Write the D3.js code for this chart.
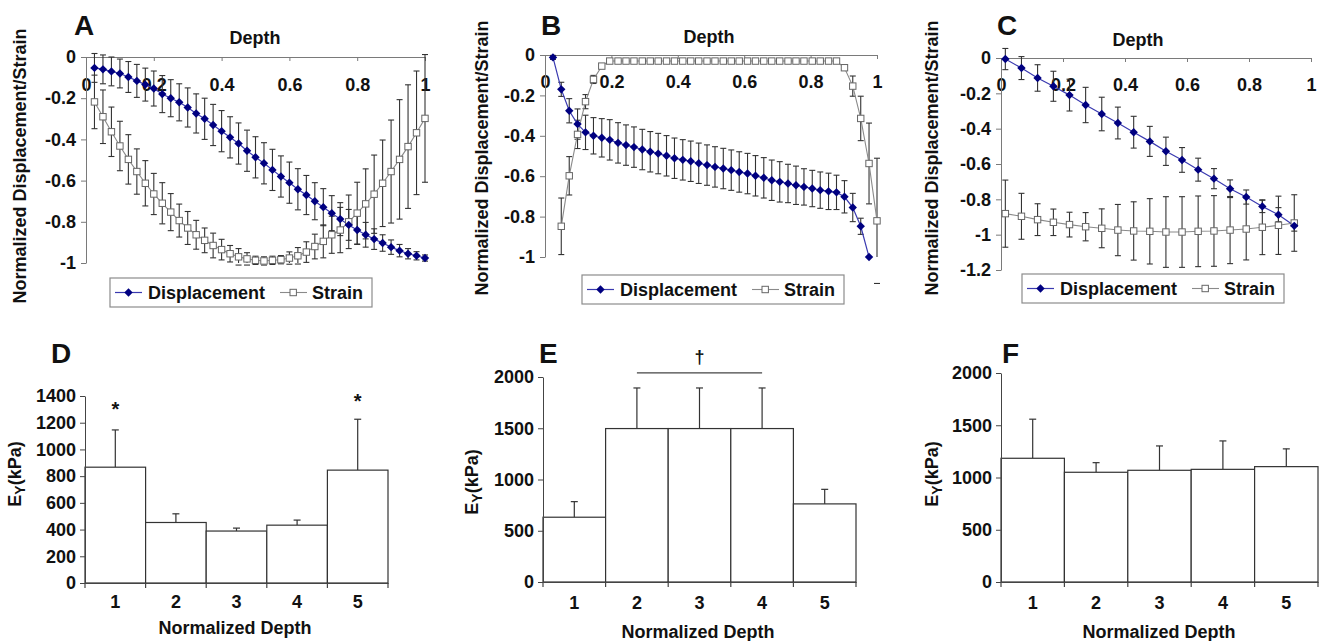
<!DOCTYPE html>
<html>
<head>
<meta charset="utf-8">
<script src="https://cdn.jsdelivr.net/npm/d3@7"></script>
<style>
  body { margin: 0; background: #fff; }
  svg text { font-family: "Liberation Sans", Arial, sans-serif; font-weight: bold; fill: #111; }
  .axis text { font-size: 18px; font-family: "Liberation Sans", Arial, sans-serif; fill: #111; }
  .axis--line path, .axis--line line { stroke: #7a7a7a; }
  .axis--bar path, .axis--bar line { stroke: #444; }
</style>
</head>
<body>
<svg id="fig" width="1328" height="641"></svg>
<script>
// ---- data: top row, normalized displacement / strain vs depth ----
const depthTicks = [0, 0.2, 0.4, 0.6, 0.8, 1]

const depthA = [0.025,0.05,0.075,0.1,0.125,0.15,0.175,0.2,0.225,0.25,0.275,0.3,0.325,0.35,0.375,0.4,0.425,0.45,0.475,0.5,
  0.525,0.55,0.575,0.6,0.625,0.65,0.675,0.7,0.725,0.75,0.775,0.8,0.825,0.85,0.875,0.9,0.925,0.95,0.975,1]
const dispA = [-0.053,-0.06,-0.07,-0.08,-0.097,-0.116,-0.134,-0.153,-0.18,-0.2,-0.22,-0.245,-0.274,-0.3,-0.33,-0.36,-0.39,-0.42,-0.455,-0.487,
  -0.516,-0.548,-0.58,-0.61,-0.642,-0.67,-0.7,-0.729,-0.758,-0.787,-0.815,-0.84,-0.863,-0.884,-0.903,-0.923,-0.94,-0.955,-0.965,-0.976]
const dispErrA = [0.07,0.07,0.07,0.07,0.075,0.08,0.08,0.085,0.09,0.09,0.09,0.095,0.095,0.1,0.1,0.1,0.1,0.1,0.1,0.1,
  0.1,0.1,0.1,0.1,0.1,0.095,0.09,0.09,0.085,0.08,0.075,0.07,0.06,0.05,0.04,0.035,0.03,0.025,0.02,0.015]
const strainA = [-0.218,-0.29,-0.363,-0.432,-0.497,-0.556,-0.613,-0.665,-0.71,-0.753,-0.794,-0.83,-0.863,-0.89,-0.915,-0.935,-0.955,-0.97,-0.98,-0.987,
  -0.99,-0.987,-0.984,-0.976,-0.965,-0.947,-0.92,-0.895,-0.863,-0.84,-0.8,-0.758,-0.713,-0.666,-0.613,-0.556,-0.497,-0.435,-0.368,-0.298]
const strainErrA = [0.13,0.13,0.12,0.12,0.12,0.11,0.11,0.1,0.1,0.09,0.08,0.08,0.07,0.06,0.06,0.05,0.04,0.04,0.03,0.02,
  0.02,0.02,0.02,0.03,0.04,0.05,0.06,0.08,0.09,0.11,0.13,0.15,0.17,0.19,0.21,0.25,0.29,0.3,0.3,0.31]

const depthB = [0.024,0.049,0.073,0.098,0.122,0.146,0.171,0.195,0.22,0.244,0.268,0.293,0.317,0.341,0.366,0.39,0.415,0.439,0.463,0.488,
  0.512,0.537,0.561,0.585,0.61,0.634,0.659,0.683,0.707,0.732,0.756,0.78,0.805,0.829,0.854,0.878,0.902,0.927,0.951,0.976,1]
const dispB = [-0.012,-0.17,-0.276,-0.342,-0.383,-0.4,-0.41,-0.42,-0.435,-0.446,-0.456,-0.468,-0.479,-0.488,-0.499,-0.511,-0.519,-0.526,-0.536,-0.545,
  -0.554,-0.562,-0.57,-0.579,-0.587,-0.598,-0.608,-0.62,-0.628,-0.636,-0.645,-0.653,-0.661,-0.669,-0.675,-0.68,-0.702,-0.755,-0.848,-1,null]
const dispErrB = [0.01,0.035,0.06,0.075,0.085,0.09,0.095,0.1,0.1,0.1,0.1,0.1,0.1,0.1,0.1,0.1,0.1,0.1,0.1,0.1,
  0.1,0.1,0.1,0.1,0.1,0.1,0.1,0.1,0.1,0.095,0.095,0.09,0.09,0.09,0.09,0.085,0.08,0.07,0.04,0,null]
const strainB = [null,-0.848,-0.598,-0.393,-0.231,-0.121,-0.055,-0.03,-0.03,-0.03,-0.03,-0.03,-0.03,-0.03,-0.03,-0.03,-0.03,-0.03,-0.03,-0.03,
  -0.03,-0.03,-0.03,-0.03,-0.03,-0.03,-0.03,-0.03,-0.03,-0.03,-0.03,-0.03,-0.03,-0.03,-0.03,-0.03,-0.063,-0.154,-0.314,-0.537,-0.821]
const strainErrB = [null,0.14,0.095,0.07,0.035,0.02,0.01,0.005,0.005,0.005,0.005,0.005,0.005,0.005,0.005,0.005,0.005,0.005,0.005,0.005,
  0.005,0.005,0.005,0.005,0.005,0.005,0.005,0.005,0.005,0.005,0.005,0.005,0.005,0.005,0.005,0.005,0.01,0.05,0.11,0.2,0.31]

const depthC = [0.014,0.066,0.118,0.169,0.221,0.273,0.325,0.377,0.428,0.48,0.532,0.584,0.636,0.687,0.739,0.791,0.843,0.895,0.946]
const dispC = [-0.006,-0.057,-0.113,-0.16,-0.21,-0.266,-0.317,-0.368,-0.42,-0.472,-0.528,-0.577,-0.632,-0.683,-0.74,-0.787,-0.84,-0.887,-0.95]
const dispErrC = [0.06,0.065,0.075,0.085,0.09,0.1,0.095,0.09,0.09,0.085,0.08,0.07,0.065,0.057,0.05,0.04,0.035,0.04,0.03]
const strainC = [-0.881,-0.896,-0.915,-0.93,-0.943,-0.955,-0.964,-0.974,-0.979,-0.981,-0.985,-0.985,-0.981,-0.979,-0.974,-0.968,-0.958,-0.947,-0.934]
const strainErrC = [0.19,0.13,0.09,0.075,0.07,0.08,0.11,0.145,0.165,0.185,0.2,0.2,0.2,0.2,0.19,0.175,0.155,0.165,0.16]

// ---- data: bottom row, E_Y per normalized depth bin ----
const depthBins = ['1', '2', '3', '4', '5']
const eyD = [867, 453, 389, 433, 845]
const eyErrD = [279, 65, 22, 38, 381]
const starLevelD = [1330, null, null, null, 1395]
const eyE = [632, 1497, 1497, 1497, 762]
const eyErrE = [152, 396, 396, 396, 142]
const eyF = [1184, 1050, 1069, 1078, 1104]
const eyErrF = [374, 92, 233, 272, 170]

const svg = d3.select('#fig')
const FONT = '"Liberation Sans", Arial, sans-serif'

const diamond = 'M0,-4.2L4.2,0L0,4.2L-4.2,0Z'

const toPoints = (depth, vals, errs) =>
  depth.map((d, i) => ({ d: d, v: vals[i], e: errs[i] })).filter(o => o.v != null)

const drawLinePanel = function(p) {
  const x = d3.scaleLinear().domain([0, 1]).range([p.left, p.right])
  const y = d3.scaleLinear().domain([p.yMin, 0]).range([p.bottom, p.top])
  const g = svg.append('g')

  const xAxis = d3.axisBottom(x)
    .tickValues(depthTicks)
    .tickSize(4)
    .tickSizeOuter(0)
    .tickPadding(p.labelPad)
    .tickFormat(d => String(d))

  const yAxis = d3.axisLeft(y)
    .tickValues(p.yTicks)
    .tickSize(5)
    .tickSizeOuter(0)
    .tickPadding(5)
    .tickFormat(d => String(d))

  g.append('g').attr('class', 'axis axis--line')
    .attr('transform', `translate(0,${p.top})`)
    .call(xAxis)

  g.append('g').attr('class', 'axis axis--line')
    .attr('transform', `translate(${p.left},0)`)
    .call(yAxis)

  const disp = toPoints(p.depthD, p.disp, p.dispErr)
  const strain = toPoints(p.depthS, p.strain, p.strainErr)

  // error bars: stem stops at the axis floor, caps do not
  const errG = g.append('g').attr('stroke', '#333').attr('stroke-width', 1.1)
  ;[disp, strain].forEach(s => {
    const withErr = s.filter(o => o.e > 0)
    errG.append('g').selectAll('line').data(withErr).join('line')
      .attr('x1', o => x(o.d)).attr('x2', o => x(o.d))
      .attr('y1', o => y(o.v + o.e))
      .attr('y2', o => y(Math.max(p.yMin, o.v - o.e)))
    errG.append('g').selectAll('line').data(withErr).join('line')
      .attr('x1', o => x(o.d) - 3).attr('x2', o => x(o.d) + 3)
      .attr('y1', o => y(o.v + o.e)).attr('y2', o => y(o.v + o.e))
    errG.append('g').selectAll('line').data(withErr).join('line')
      .attr('x1', o => x(o.d) - 3).attr('x2', o => x(o.d) + 3)
      .attr('y1', o => y(o.v - o.e)).attr('y2', o => y(o.v - o.e))
  })

  const line = d3.line().x(o => x(o.d)).y(o => y(o.v))

  g.append('path').datum(strain)
    .attr('fill', 'none').attr('stroke', '#8a8a8a').attr('stroke-width', 1.1)
    .attr('d', line)

  g.append('path').datum(disp)
    .attr('fill', 'none').attr('stroke', '#3a3ab0').attr('stroke-width', 1.2)
    .attr('d', line)

  g.append('g').selectAll('rect').data(strain).join('rect')
    .attr('x', o => x(o.d) - 3.2).attr('y', o => y(o.v) - 3.2)
    .attr('width', 6.4).attr('height', 6.4)
    .attr('fill', '#fff').attr('stroke', '#666').attr('stroke-width', 1)

  g.append('g').selectAll('path').data(disp).join('path')
    .attr('transform', o => `translate(${x(o.d)},${y(o.v)})`)
    .attr('d', diamond)
    .attr('fill', '#000080')

  // titles
  g.append('text')
    .attr('x', p.letterX).attr('y', p.letterY)
    .style('font-size', '28px')
    .text(p.letter)

  g.append('text')
    .attr('x', p.depthX).attr('y', p.depthY)
    .attr('text-anchor', 'middle')
    .style('font-size', '18px')
    .text('Depth')

  g.append('text')
    .attr('transform', `translate(${p.yLabelX},${p.yLabelY}) rotate(-90)`)
    .attr('text-anchor', 'middle')
    .attr('dy', '0.35em')
    .style('font-size', '18px')
    .text('Normalized Displacement/Strain')

  // legend
  const lg = g.append('g').attr('transform', `translate(${p.legend[0]},${p.legend[1]})`)
  lg.append('rect').attr('width', 262).attr('height', 29)
    .attr('fill', '#fff').attr('stroke', '#8c8c8c').attr('stroke-width', 1.2)
  lg.append('line').attr('x1', 5).attr('x2', 32).attr('y1', 14.5).attr('y2', 14.5)
    .attr('stroke', '#3a3ab0').attr('stroke-width', 1.2)
  lg.append('path').attr('transform', 'translate(18.5,14.5)').attr('d', diamond).attr('fill', '#000080')
  lg.append('text').attr('x', 38).attr('y', 21).style('font-size', '18px').text('Displacement')
  lg.append('line').attr('x1', 170).attr('x2', 197).attr('y1', 14.5).attr('y2', 14.5)
    .attr('stroke', '#8a8a8a').attr('stroke-width', 1.1)
  lg.append('rect').attr('x', 180).attr('y', 11.3).attr('width', 6.4).attr('height', 6.4)
    .attr('fill', '#fff').attr('stroke', '#666')
  lg.append('text').attr('x', 202).attr('y', 21).style('font-size', '18px').text('Strain')
}

const drawBarPanel = function(p) {
  const x = d3.scaleBand().domain(depthBins).range([p.left, p.right]).padding(0)
  const y = d3.scaleLinear().domain([0, p.yMax]).range([p.bottom, p.top])
  const g = svg.append('g')
  const bw = x.bandwidth()

  const rows = depthBins.map((c, i) => ({ c: c, v: p.values[i], e: p.errs[i] }))

  // error bars (upper only)
  g.append('g').selectAll('line').data(rows).join('line')
    .attr('x1', r => x(r.c) + bw / 2).attr('x2', r => x(r.c) + bw / 2)
    .attr('y1', r => y(r.v)).attr('y2', r => y(r.v + r.e))
    .attr('stroke', '#333').attr('stroke-width', 1.2)
  g.append('g').selectAll('line').data(rows).join('line')
    .attr('x1', r => x(r.c) + bw / 2 - 3.5).attr('x2', r => x(r.c) + bw / 2 + 3.5)
    .attr('y1', r => y(r.v + r.e)).attr('y2', r => y(r.v + r.e))
    .attr('stroke', '#333').attr('stroke-width', 1.2)

  g.append('g').selectAll('rect').data(rows).join('rect')
    .attr('x', r => x(r.c)).attr('y', r => y(r.v))
    .attr('width', bw).attr('height', r => y(0) - y(r.v))
    .attr('fill', '#fff').attr('stroke', '#333').attr('stroke-width', 1.2)

  const xAxis = d3.axisBottom(x).tickSize(0).tickPadding(p.labelPad).tickSizeOuter(0)
  const xg = g.append('g').attr('class', 'axis axis--bar')
    .attr('transform', `translate(0,${p.bottom})`)
    .call(xAxis)
  xg.select('.domain').attr('stroke-width', 1.2)
  // bin-edge ticks
  const edges = depthBins.map(c => x(c)).concat([x.range()[1]])
  xg.selectAll('.edge').data(edges).join('line')
    .attr('class', 'edge')
    .attr('x1', d => d).attr('x2', d => d).attr('y1', 0).attr('y2', 5)
    .attr('stroke', '#444').attr('stroke-width', 1.2)

  const yAxis = d3.axisLeft(y).tickValues(p.yTicks).tickSize(5).tickSizeOuter(0).tickPadding(4)
    .tickFormat(d => String(d))
  g.append('g').attr('class', 'axis axis--bar')
    .attr('transform', `translate(${p.left},0)`)
    .call(yAxis)

  g.append('text')
    .attr('x', p.letterX).attr('y', p.letterY)
    .style('font-size', '28px')
    .text(p.letter)

  g.append('text')
    .attr('x', p.nameX).attr('y', p.nameY)
    .attr('text-anchor', 'middle')
    .style('font-size', '18px')
    .text('Normalized Depth')

  const yl = g.append('text')
    .attr('transform', `translate(${p.yLabelX},${p.yLabelY}) rotate(-90)`)
    .attr('text-anchor', 'middle')
    .attr('dy', '0.35em')
    .style('font-size', '18px')
  yl.append('tspan').text('E')
  yl.append('tspan').attr('dy', 4).style('font-size', '14px').text('Y')
  yl.append('tspan').attr('dy', -4).text('(kPa)')

  if (p.stars) {
    g.append('g').selectAll('text').data(rows.map((r, i) => ({ c: r.c, lv: p.stars[i] })).filter(s => s.lv != null))
      .join('text')
      .attr('x', s => x(s.c) + bw / 2)
      .attr('y', s => y(s.lv) + 11)
      .attr('text-anchor', 'middle')
      .style('font-size', '20px')
      .text('*')
  }

  if (p.bracket) {
    const b = p.bracket
    g.append('line')
      .attr('x1', x(b.from) + bw / 2).attr('x2', x(b.to) + bw / 2)
      .attr('y1', y(b.level)).attr('y2', y(b.level))
      .attr('stroke', '#444').attr('stroke-width', 1.4)
    g.append('text')
      .attr('x', x(b.mid) + bw / 2).attr('y', y(b.level) - 10)
      .attr('text-anchor', 'middle')
      .style('font-size', '18px')
      .text(b.mark)
  }
}

drawLinePanel({
  letter: 'A', letterX: 74, letterY: 35,
  left: 86, right: 425, top: 57, bottom: 263, yMin: -1,
  yTicks: [0, -0.2, -0.4, -0.6, -0.8, -1], labelPad: 17,
  depthD: depthA, disp: dispA, dispErr: dispErrA,
  depthS: depthA, strain: strainA, strainErr: strainErrA,
  depthX: 255, depthY: 44, yLabelX: 20, yLabelY: 166,
  legend: [110, 278]
})

drawLinePanel({
  letter: 'B', letterX: 541, letterY: 35,
  left: 545, right: 877, top: 55, bottom: 257, yMin: -1,
  yTicks: [0, -0.2, -0.4, -0.6, -0.8, -1], labelPad: 16,
  depthD: depthB, disp: dispB, dispErr: dispErrB,
  depthS: depthB, strain: strainB, strainErr: strainErrB,
  depthX: 709, depthY: 43, yLabelX: 482, yLabelY: 158,
  legend: [582, 275]
})

drawLinePanel({
  letter: 'C', letterX: 997, letterY: 35,
  left: 1001, right: 1311, top: 58, bottom: 270, yMin: -1.2,
  yTicks: [0, -0.2, -0.4, -0.6, -0.8, -1, -1.2], labelPad: 16,
  depthD: depthC, disp: dispC, dispErr: dispErrC,
  depthS: depthC, strain: strainC, strainErr: strainErrC,
  depthX: 1138, depthY: 46, yLabelX: 932, yLabelY: 158,
  legend: [1022, 274]
})

drawBarPanel({
  letter: 'D', letterX: 51, letterY: 363,
  left: 85, right: 388, top: 396, bottom: 583, yMax: 1400,
  yTicks: [0, 200, 400, 600, 800, 1000, 1200, 1400], labelPad: 12,
  values: eyD, errs: eyErrD, stars: starLevelD,
  nameX: 235, nameY: 634, yLabelX: 15, yLabelY: 474
})

drawBarPanel({
  letter: 'E', letterX: 539, letterY: 363,
  left: 543, right: 856, top: 377, bottom: 582, yMax: 2000,
  yTicks: [0, 500, 1000, 1500, 2000], labelPad: 14,
  values: eyE, errs: eyErrE,
  bracket: { from: '2', to: '4', mid: '3', level: 2040, mark: '†' },
  nameX: 698, nameY: 638, yLabelX: 472, yLabelY: 482
})

drawBarPanel({
  letter: 'F', letterX: 1002, letterY: 363,
  left: 1001, right: 1318, top: 373, bottom: 582, yMax: 2000,
  yTicks: [0, 500, 1000, 1500, 2000], labelPad: 14,
  values: eyF, errs: eyErrF,
  nameX: 1159, nameY: 638, yLabelX: 932, yLabelY: 474
})
</script>
</body>
</html>
